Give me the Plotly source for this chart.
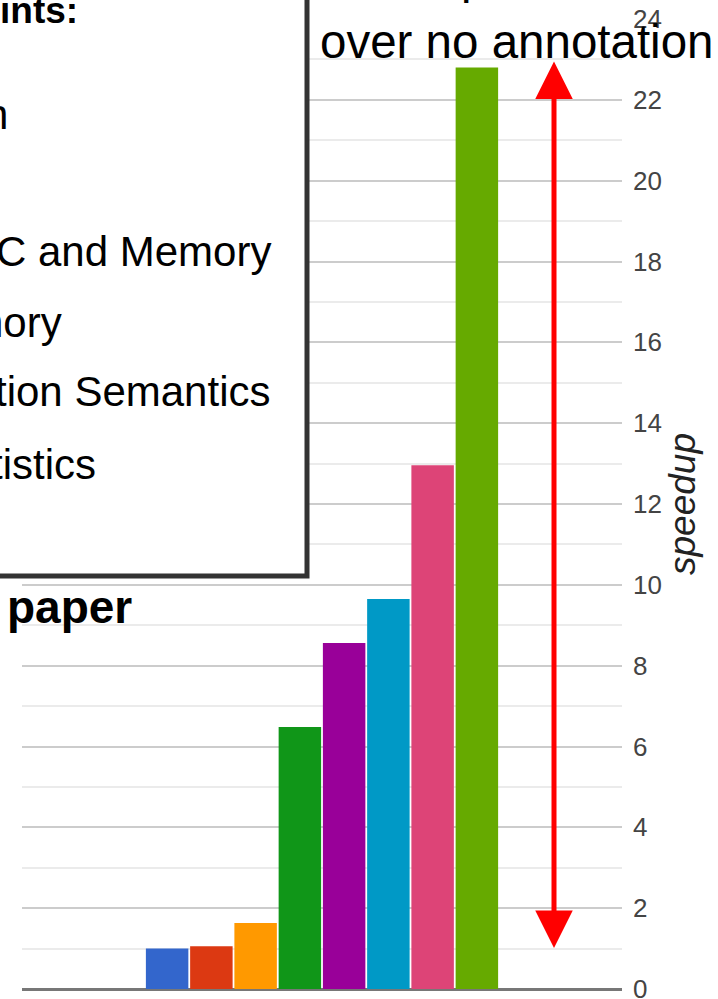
import plotly.graph_objects as go

# ---- data ----
series_names = ["s1", "s2", "s3", "s4", "s5", "s6", "s7", "s8"]
speedups = [1.0, 1.06, 1.63, 6.48, 8.56, 9.65, 12.96, 22.8]
colors = ["#3366cc", "#dc3912", "#ff9900", "#109618", "#990099", "#0099c6", "#dd4477", "#66aa00"]
category = [""]
y_ticks = [0, 2, 4, 6, 8, 10, 12, 14, 16, 18, 20, 22, 24]
box_lines = ["ints:", "n", "C and Memory", "nory", "tion Semantics", "tistics"]
arrow_top, arrow_bottom = 22.95, 0.98

W, H = 718, 999
L, R, T, B = 22, 96, 19, 10
PW, PH = W - L - R, H - T - B


def px(x):
    return (x - L) / PW


def py(y):
    return (H - B - y) / PH


fig = go.Figure()
for name, v, c in zip(series_names, speedups, colors):
    fig.add_trace(go.Bar(x=category, y=[v], name=name, marker=dict(color=c, line=dict(width=0)),
                         showlegend=False))

fig.update_layout(
    width=W, height=H,
    margin=dict(l=L, r=R, t=T, b=B, pad=0, autoexpand=False),
    paper_bgcolor="white", plot_bgcolor="white",
    barmode="group", bargap=0.41, bargroupgap=0.04,
    font=dict(family="Liberation Sans, Arial, sans-serif", color="#000"),
    xaxis=dict(range=[-0.5, 0.5], showticklabels=False, showgrid=False, zeroline=False,
               showline=False, fixedrange=True, automargin=False),
    yaxis=dict(side="right", range=[0, 24], tickvals=y_ticks, showgrid=True, automargin=False,
               gridcolor="#cccccc", gridwidth=1.5, zeroline=True, zerolinecolor="#777777",
               zerolinewidth=2.5, ticks="", ticklabelstandoff=10, ticklabeloverflow="allow",
               tickfont=dict(size=26, color="#444444", family="Liberation Sans, Arial"),
               minor=dict(dtick=1, showgrid=True, gridcolor="#ebebeb", gridwidth=1.5),
               title=dict(text="speedup", standoff=8,
                          font=dict(size=37, style="italic", color="#222222",
                                    family="Liberation Sans, Arial"))),
)

# legend-like box of the slide (partially off-canvas)
fig.add_shape(type="rect", xref="paper", yref="paper",
              x0=px(-40), x1=px(307), y0=py(576), y1=py(-40),
              line=dict(color="#333333", width=5), fillcolor="white", layer="above")

box_specs = [(80, 10, True, 37), (10, 115, False, 42), (273, 251, False, 42), (64, 322, False, 42),
             (272, 392, False, 42), (98, 464, False, 42)]
for text, (xr, yc, bold, fs) in zip(box_lines, box_specs):
    fig.add_annotation(text=f"<b>{text}</b>" if bold else text, xref="paper", yref="paper",
                       x=px(xr), y=py(yc), xanchor="right", yanchor="middle", showarrow=False,
                       font=dict(size=fs, color="#000"))

fig.add_annotation(text="<b>paper</b>", xref="paper", yref="paper", x=px(5), y=py(607),
                   xanchor="left", yanchor="middle", showarrow=False, font=dict(size=46))

fig.add_annotation(text="over no annotation", xref="paper", yref="paper", x=px(517), y=py(41),
                   xanchor="center", yanchor="middle", showarrow=False, font=dict(size=47.5))
fig.add_annotation(text="p", xref="paper", yref="paper", x=px(474), y=py(-23),
                   xanchor="center", yanchor="middle", showarrow=False, font=dict(size=47))

# red double arrow
fig.add_annotation(text="", xref="x domain", yref="y", axref="x domain", ayref="y",
                   x=px(554), y=arrow_top, ax=px(554), ay=arrow_bottom,
                   showarrow=True, arrowside="end+start", arrowhead=2, startarrowhead=2,
                   arrowsize=1.5, startarrowsize=1.5, arrowwidth=5, arrowcolor="#ff0000",
                   standoff=0, startstandoff=0)

fig.write_html("out.html")
